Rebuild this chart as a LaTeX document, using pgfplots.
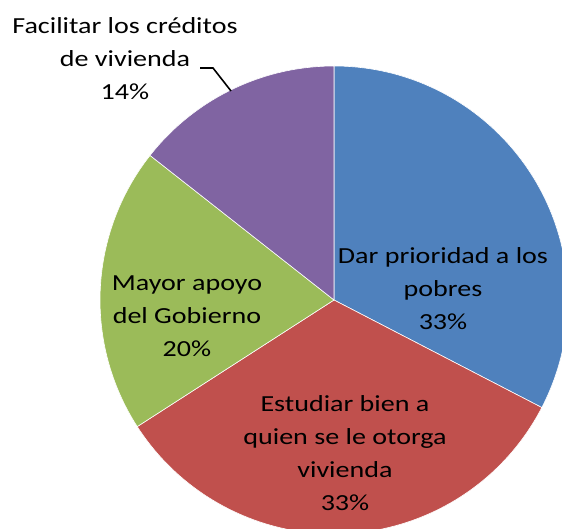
\documentclass[border=0pt]{standalone}
\usepackage{pgfplots}
\usepackage{pgfplotstable}
\pgfplotsset{compat=1.18}
\usepackage{fontspec}
\setmainfont[FakeStretch=1.22]{Carlito}
\definecolor{cBlue}{HTML}{4F81BD}
\definecolor{cRed}{HTML}{C0504D}
\definecolor{cGreen}{HTML}{9BBB59}
\definecolor{cPurple}{HTML}{8064A2}

\pgfplotstableread{
value
32.6
33.3
19.7
14.4
}\piedata

\begin{document}
\begin{tikzpicture}
\pgfplotstablegetelem{0}{value}\of\piedata \let\vA\pgfplotsretval
\pgfplotstablegetelem{1}{value}\of\piedata \let\vB\pgfplotsretval
\pgfplotstablegetelem{2}{value}\of\piedata \let\vC\pgfplotsretval
\pgfplotstablegetelem{3}{value}\of\piedata \let\vD\pgfplotsretval
\pgfmathsetmacro\aA{90}
\pgfmathsetmacro\aB{\aA-3.6*\vA}
\pgfmathsetmacro\aC{\aB-3.6*\vB}
\pgfmathsetmacro\aD{\aC-3.6*\vC}
\pgfmathsetmacro\aE{\aD-3.6*\vD}
\def\R{234pt}
\useasboundingbox (0,0) rectangle (562pt,528pt);
\begin{axis}[
  at={(0,0)}, anchor=south west,
  x=1pt, y=1pt, disabledatascaling,
  xmin=0, xmax=562, ymin=0, ymax=528,
  hide axis, clip=true,
]
\fill[cBlue, draw=white, line width=0.6pt] (axis cs:334,228) -- ++(\aA:\R) arc[start angle=\aA, end angle=\aB, radius=\R] -- cycle;
\fill[cRed, draw=white, line width=0.6pt] (axis cs:334,228) -- ++(\aB:\R) arc[start angle=\aB, end angle=\aC, radius=\R] -- cycle;
\fill[cGreen, draw=white, line width=0.6pt] (axis cs:334,228) -- ++(\aC:\R) arc[start angle=\aC, end angle=\aD, radius=\R] -- cycle;
\fill[cPurple, draw=white, line width=0.6pt] (axis cs:334,228) -- ++(\aD:\R) arc[start angle=\aD, end angle=\aE, radius=\R] -- cycle;
\draw[black, line width=1.6pt] (axis cs:200,460) -- (axis cs:213,460) -- (axis cs:231,437);
\begin{scope}[every node/.style={align=center, font=\fontsize{23}{33}\selectfont, text=black, inner sep=0pt}]
\node at (axis cs:443,239) {Dar prioridad a los\\pobres\\33\%};
\node at (axis cs:345,75) {Estudiar bien a\\quien se le otorga\\vivienda\\33\%};
\node at (axis cs:187,212) {Mayor apoyo\\del Gobierno\\20\%};
\node at (axis cs:125,469) {Facilitar los créditos\\de vivienda\\14\%};
\end{scope}
\end{axis}
\end{tikzpicture}
\end{document}
